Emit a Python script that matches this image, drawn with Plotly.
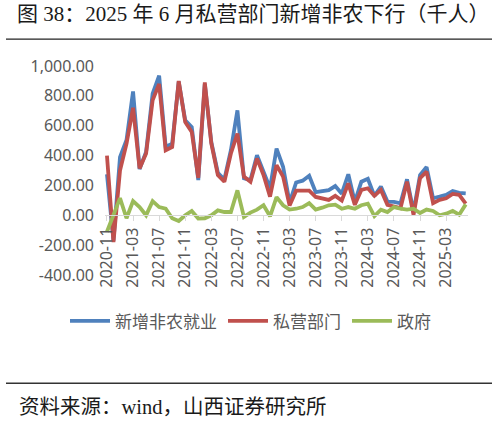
import pandas as pd
import plotly.graph_objects as go

# 月度数据：2020-11 至 2025-06（千人）
months = list(pd.date_range("2020-11-01", "2025-06-01", freq="MS").strftime("%Y-%m"))

nonfarm_total = [
    275, -170, 390, 505, 830, 310, 425, 815, 935, 460, 480, 895, 636, 590,
    236, 880, 490, 285, 240, 436, 703, 248, 236, 403, 292, 181, 447, 325,
    85, 220, 232, 265, 155, 163, 168, 196, 145, 275, 90, 225, 245, 130,
    192, 92, 90, 80, 241, 25, 270, 323, 114, 125, 137, 162, 150, 147,
]
private_sector = [
    400, -180, 300, 480, 720, 314, 414, 770, 880, 436, 458, 900, 625, 558,
    250, 890, 481, 270, 225, 414, 547, 259, 225, 381, 270, 125, 336, 259,
    65, 165, 165, 165, 123, 114, 103, 130, 99, 214, 70, 170, 181, 130,
    170, 70, 59, 48, 225, 3, 248, 292, 81, 103, 114, 143, 137, 78,
]
government = [
    -110, 10, 115, -20, 95, 55, 0, 95, 55, 44, -20, -38, 0, 29,
    -22, -20, 0, 33, 22, 22, 167, -11, 18, 38, 67, -7, 122, 67,
    38, 44, 55, 82, 38, 51, 67, 71, 44, 55, 44, 67, 78, -5,
    38, 22, 55, 44, 38, 44, 15, 38, 29, 0, 11, 29, 4, 73,
]

series_names = ["新增非农就业", "私营部门", "政府"]
series_colors = ["#4F81BD", "#C0504D", "#9BBB59"]

y_ticks = [-400, -200, 0, 200, 400, 600, 800, 1000]
y_tick_labels = ["-400.00", "-200.00", "0.00", "200.00", "400.00", "600.00", "800.00", "1,000.00"]

title_text = "图 38：2025 年 6 月私营部门新增非农下行（千人）"
source_text = "资料来源：wind，山西证券研究所"

# 画布与绘图区（像素）
W, H = 499, 424
PL, PR, PT, PB = 105, 468, 66, 275.5
Y_MIN, Y_MAX = -400, 1000
legend_left_px = [65, 223, 347]  # 每个图例项的起点


def px_x(x):
    return (x - PL) / (PR - PL)


def px_y(y):
    return (PB - y) / (PB - PT)


fig = go.Figure()
legend_ids = ["legend", "legend2", "legend3"]
for name, values, color, lg in zip(series_names, [nonfarm_total, private_sector, government],
                                   series_colors, legend_ids):
    fig.add_trace(go.Scatter(
        x=months, y=values, mode="lines", name=name, legend=lg,
        line=dict(color=color, width=3.8),
    ))

legend_style = dict(
    orientation="h", yanchor="middle", xanchor="left",
    font=dict(family="Noto Sans CJK SC", size=17, color="#595959"),
    itemwidth=40, bgcolor="rgba(0,0,0,0)",
)

fig.update_layout(
    width=W, height=H,
    margin=dict(l=PL, r=W - PR, t=PT, b=H - PB, pad=0),
    paper_bgcolor="white", plot_bgcolor="white",
    font=dict(family="Noto Sans, Noto Sans CJK SC", color="#595959"),
    title=dict(
        text=title_text, xref="container", yref="container",
        x=17 / W, y=1 - 14 / H, xanchor="left", yanchor="middle",
        font=dict(family="Liberation Serif, Noto Sans CJK SC", size=21, color="#1a1a1a"),
    ),
    showlegend=True,
    legend=dict(x=px_x(legend_left_px[0]), y=px_y(322), **legend_style),
    legend2=dict(x=px_x(legend_left_px[1]), y=px_y(322), **legend_style),
    legend3=dict(x=px_x(legend_left_px[2]), y=px_y(322), **legend_style),
    xaxis=dict(
        type="category", range=[-0.3, len(months) - 0.65],
        anchor="free", position=(0 - Y_MIN) / (Y_MAX - Y_MIN),
        showgrid=False, zeroline=False,
        showline=True, linecolor="#d9d9d9", linewidth=1,
        ticks="outside", ticklen=5, tickcolor="#d9d9d9",
        tickmode="linear", tick0=0, dtick=4,
        tickangle=-90, tickfont=dict(family="Noto Sans", size=16, color="#595959"),
    ),
    yaxis=dict(
        range=[Y_MIN, Y_MAX], showgrid=False, zeroline=False, showline=False,
        tickmode="array", tickvals=y_ticks, ticktext=y_tick_labels,
        tickfont=dict(family="Noto Sans", size=16, color="#595959"),
        ticklabelstandoff=10,
    ),
    shapes=[
        dict(type="line", xref="paper", yref="paper",
             x0=px_x(6), x1=px_x(492), y0=px_y(39), y1=px_y(39),
             line=dict(color="#222222", width=1.3)),
        dict(type="line", xref="paper", yref="paper",
             x0=px_x(6), x1=px_x(492), y0=px_y(384), y1=px_y(384),
             line=dict(color="#333333", width=1.6)),
    ],
    annotations=[
        dict(text=source_text, xref="paper", yref="paper",
             x=px_x(17), y=px_y(408), xanchor="left", yanchor="middle",
             showarrow=False,
             font=dict(family="Liberation Serif, Noto Sans CJK SC", size=20.5, color="#1a1a1a")),
    ],
)

# 去掉浏览器默认的 body 边距，使图表贴齐窗口；隐藏工具栏
fig.write_html("out.html", config={"displayModeBar": False},
               post_script="document.body.style.margin='0';")
